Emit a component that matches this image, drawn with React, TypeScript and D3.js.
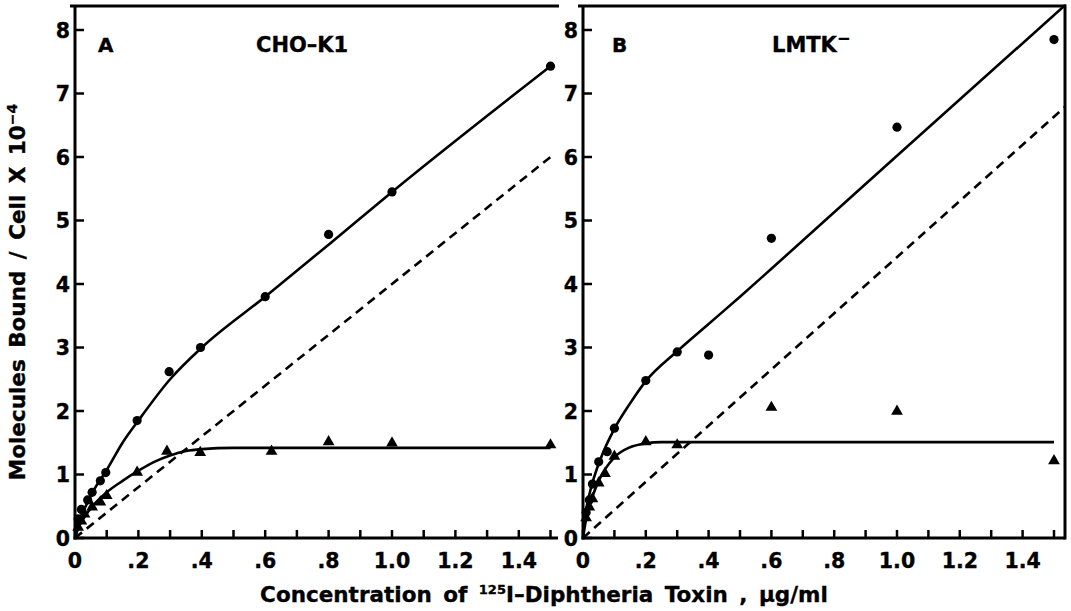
import React from "react";
import * as d3 from "d3";

// ---------- data ----------
const xTickValues = [0, 0.1, 0.2, 0.3, 0.4, 0.5, 0.6, 0.7, 0.8, 0.9, 1.0, 1.1, 1.2, 1.3, 1.4, 1.5];
const xLabelValues = [0, 0.2, 0.4, 0.6, 0.8, 1.0, 1.2, 1.4];
const xLabelTexts = ["0", ".2", ".4", ".6", ".8", "1.0", "1.2", "1.4"];
const yTickValues = [0, 1, 2, 3, 4, 5, 6, 7, 8];

// Panel A (CHO-K1)
const aCircles: [number, number][] = [
  [0.01, 0.3], [0.02, 0.45], [0.04, 0.6], [0.054, 0.72], [0.08, 0.9], [0.097, 1.03],
  [0.196, 1.85], [0.297, 2.62], [0.396, 3.0], [0.6, 3.8], [0.8, 4.78], [1.0, 5.45], [1.5, 7.43],
];
const aTriangles: [number, number][] = [
  [0.01, 0.15], [0.02, 0.25], [0.03, 0.36], [0.054, 0.47], [0.08, 0.55], [0.1, 0.65],
  [0.196, 1.02], [0.29, 1.35], [0.395, 1.33], [0.62, 1.35], [0.8, 1.5], [1.0, 1.48], [1.5, 1.45],
];
const aTotalCurve: [number, number][] = [
  [0, 0], [0.01, 0.2], [0.02, 0.35], [0.04, 0.56], [0.06, 0.76], [0.1, 1.07], [0.15, 1.5],
  [0.2, 1.85], [0.3, 2.5], [0.4, 3.0], [0.6, 3.8], [0.8, 4.62], [1.0, 5.45], [1.5, 7.43],
];
const aSpecificCurve: [number, number][] = [
  [0, 0], [0.01, 0.15], [0.03, 0.33], [0.05, 0.47], [0.1, 0.72], [0.15, 0.9], [0.2, 1.06],
  [0.25, 1.2], [0.3, 1.3], [0.35, 1.37], [0.4, 1.4], [0.5, 1.42], [1.0, 1.42], [1.5, 1.42],
];
const aNonspecific: [number, number][] = [[0, 0], [1.5, 6.0]];

// Panel B (LMTK-)
const bCircles: [number, number][] = [
  [0.01, 0.4], [0.02, 0.6], [0.03, 0.85], [0.05, 1.2], [0.077, 1.36], [0.1, 1.73],
  [0.2, 2.48], [0.3, 2.93], [0.4, 2.88], [0.6, 4.72], [1.0, 6.47], [1.5, 7.85],
];
const bTriangles: [number, number][] = [
  [0.01, 0.3], [0.02, 0.47], [0.03, 0.6], [0.05, 0.85], [0.07, 1.0], [0.1, 1.27],
  [0.2, 1.5], [0.3, 1.45], [0.6, 2.04], [1.0, 1.98], [1.5, 1.2],
];
const bTotalCurve: [number, number][] = [
  [0, 0], [0.005, 0.3], [0.01, 0.45], [0.02, 0.68], [0.03, 0.87], [0.05, 1.17], [0.075, 1.47],
  [0.1, 1.72], [0.15, 2.12], [0.2, 2.47], [0.3, 2.94], [0.4, 3.37], [0.5, 3.8], [0.6, 4.24],
  [1.0, 6.02], [1.56, 8.5],
];
const bSpecificCurve: [number, number][] = [
  [0, 0], [0.01, 0.3], [0.03, 0.65], [0.05, 0.9], [0.1, 1.27], [0.15, 1.43], [0.2, 1.49],
  [0.25, 1.51], [0.3, 1.51], [1.0, 1.51], [1.5, 1.51],
];
const bNonspecific: [number, number][] = [[0, 0], [1.56, 6.9]];

// ---------- layout ----------
const W = 1071;
const H = 611;
const yTop = 6;
const yBottom = 538;
const FONT = "'DejaVu Sans', Verdana, sans-serif";
const textStyle = { fontFamily: FONT, fontWeight: 700, stroke: "#000", strokeWidth: 0.35 } as const;

type PanelProps = {
  id: string;
  x0: number;
  x15: number;
  axisEnd: number;
  rightBorder: boolean;
  letter: string;
  title: React.ReactNode;
  letterX: number;
  titleX: number;
  circles: [number, number][];
  triangles: [number, number][];
  total: [number, number][];
  specific: [number, number][];
  nonspec: [number, number][];
};

function Panel(p: PanelProps) {
  const x = d3.scaleLinear().domain([0, 1.5]).range([p.x0, p.x15]);
  const y = d3.scaleLinear().domain([0, 8]).range([yBottom, 30]);
  const line = d3
    .line<[number, number]>()
    .x((d) => x(d[0]))
    .y((d) => y(d[1]))
    .curve(d3.curveMonotoneX);
  const straight = d3
    .line<[number, number]>()
    .x((d) => x(d[0]))
    .y((d) => y(d[1]));
  const tri = d3.symbol().type(d3.symbolTriangle).size(60)();
  const clipId = `clip-${p.id}`;
  return (
    <g>
      <defs>
        <clipPath id={clipId}>
          <rect x={p.x0} y={yTop} width={p.axisEnd - p.x0} height={yBottom - yTop} />
        </clipPath>
      </defs>
      {/* frame */}
      <line x1={p.x0 - 5} x2={p.axisEnd + 1} y1={yTop} y2={yTop} stroke="#000" strokeWidth={3} />
      <line x1={p.x0} x2={p.x0} y1={yTop - 1} y2={yBottom + 1.5} stroke="#000" strokeWidth={3} />
      <line x1={p.x0 - 1.5} x2={p.axisEnd} y1={yBottom} y2={yBottom} stroke="#000" strokeWidth={3} />
      {p.rightBorder && (
        <line x1={p.axisEnd} x2={p.axisEnd} y1={yTop - 1.5} y2={yBottom + 1.5} stroke="#000" strokeWidth={3} />
      )}
      {/* x ticks */}
      {xTickValues.map((v) => (
        <line key={`xt${v}`} x1={x(v)} x2={x(v)} y1={yBottom} y2={yBottom - 8} stroke="#000" strokeWidth={2.5} />
      ))}
      {xLabelValues.map((v, i) => (
        <text key={`xl${v}`} x={x(v)} y={568} textAnchor="middle" fontSize={20.5} style={textStyle}>
          {xLabelTexts[i]}
        </text>
      ))}
      {/* y ticks */}
      {yTickValues.map((v) => (
        <line key={`yt${v}`} x1={p.x0} x2={p.x0 + 9} y1={y(v)} y2={y(v)} stroke="#000" strokeWidth={2.5} />
      ))}
      {yTickValues.map((v) => (
        <text key={`yl${v}`} x={p.x0 - 5} y={y(v) + 7.5} textAnchor="end" fontSize={20.5} style={textStyle}>
          {v}
        </text>
      ))}
      {/* panel labels */}
      <text x={p.letterX} y={52} fontSize={20} style={textStyle}>
        {p.letter}
      </text>
      <text x={p.titleX} y={52} fontSize={21} style={textStyle}>
        {p.title}
      </text>
      {/* curves */}
      <g clipPath={`url(#${clipId})`}>
        <path d={straight(p.nonspec) || ""} fill="none" stroke="#000" strokeWidth={2.6} strokeDasharray="9,6" />
        <path d={line(p.total) || ""} fill="none" stroke="#000" strokeWidth={2.6} />
        <path d={line(p.specific) || ""} fill="none" stroke="#000" strokeWidth={2.6} />
      </g>
      {p.circles.map((d, i) => (
        <circle key={`c${i}`} cx={x(d[0])} cy={y(d[1])} r={4.6} fill="#000" />
      ))}
      {p.triangles.map((d, i) => (
        <path key={`t${i}`} d={tri || ""} transform={`translate(${x(d[0])},${y(d[1]) - 1})`} fill="#000" />
      ))}
    </g>
  );
}

export default function App() {
  return (
    <svg
      width={W}
      height={H}
      viewBox={`0 0 ${W} ${H}`}
      style={{ position: "absolute", left: 0, top: 0, background: "#fff" }}
    >
      <rect x={0} y={0} width={W} height={H} fill="#fff" />
      <Panel
        id="a"
        x0={75}
        x15={550.5}
        axisEnd={558}
        rightBorder={false}
        letter="A"
        letterX={98}
        title="CHO–K1"
        titleX={256}
        circles={aCircles}
        triangles={aTriangles}
        total={aTotalCurve}
        specific={aSpecificCurve}
        nonspec={aNonspecific}
      />
      <Panel
        id="b"
        x0={583}
        x15={1054}
        axisEnd={1065}
        rightBorder={true}
        letter="B"
        letterX={612}
        title={
          <>
            LMTK
            <tspan dy={-8} fontSize={16}>
              −
            </tspan>
          </>
        }
        titleX={772}
        circles={bCircles}
        triangles={bTriangles}
        total={bTotalCurve}
        specific={bSpecificCurve}
        nonspec={bNonspecific}
      />
      {/* y axis title */}
      <text
        transform="translate(25,292) rotate(-90)"
        textAnchor="middle"
        fontSize={21.5}
        wordSpacing={4}
        style={textStyle}
      >
        Molecules Bound / Cell X 10
        <tspan dy={-8} fontSize={14}>
          −4
        </tspan>
      </text>
      {/* x axis title */}
      <text x={544} y={602} textAnchor="middle" fontSize={21.5} wordSpacing={4} style={textStyle}>
        Concentration of{" "}
        <tspan dy={-8} fontSize={13}>
          125
        </tspan>
        <tspan dy={8}>I–Diphtheria Toxin ,  µg/ml</tspan>
      </text>
    </svg>
  );
}
